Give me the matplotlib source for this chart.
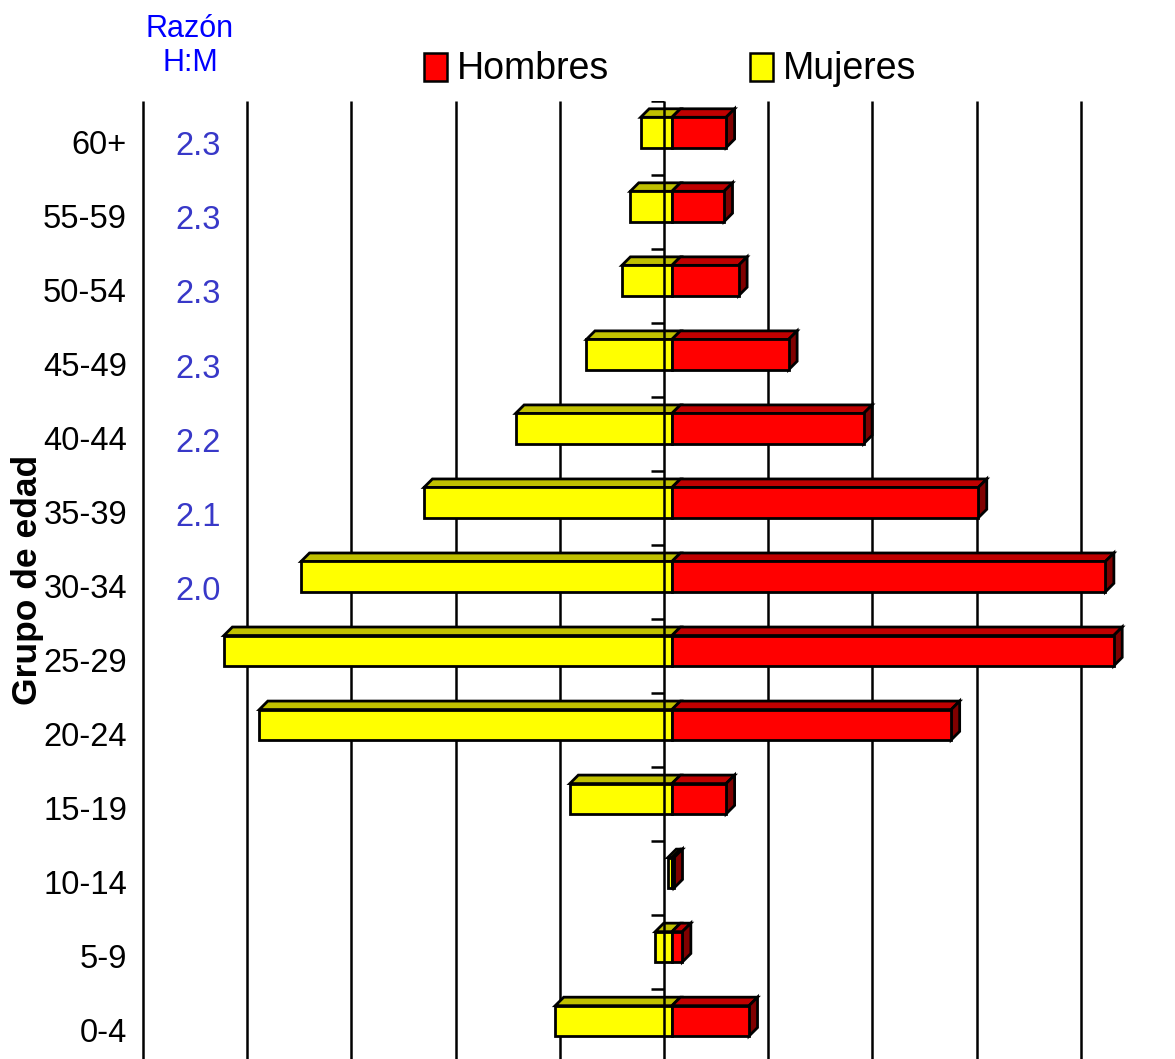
import matplotlib
matplotlib.use('Agg')
import matplotlib.pyplot as plt
from matplotlib.patches import Polygon, Rectangle

plt.rcParams['font.family'] = ['Liberation Sans', 'DejaVu Sans']

# age groups from top to bottom
groups = ['60+', '55-59', '50-54', '45-49', '40-44', '35-39', '30-34',
          '25-29', '20-24', '15-19', '10-14', '5-9', '0-4']
# share (%) of each sex falling in every age group
hombres = [2.6, 2.5, 3.2, 5.6, 9.2, 14.7, 20.8, 21.2, 13.4, 2.6, 0.1, 0.5, 3.7]
mujeres = [1.5, 2.0, 2.4, 4.1, 7.5, 11.9, 17.8, 21.5, 19.8, 4.9, 0.2, 0.8, 5.6]
# male:female ratio, only given for the older groups
razon = [2.3, 2.3, 2.3, 2.3, 2.2, 2.1, 2.0]

RED, RED_TOP, RED_SIDE = '#FF0000', '#C00000', '#800000'
YEL, YEL_TOP = '#FFFF00', '#C0C000'
RATIO_BLUE = '#3838C8'

W, H = 1175, 1059
fig = plt.figure(figsize=(W / 100, H / 100), dpi=100)
ax_w, ax_h = 989, 958
ax = fig.add_axes([142 / W, 0, ax_w / W, ax_h / H])
xmin, xmax = -25.43, 22.03
ytop, ybot = -0.425, 12.515
ax.set_xlim(xmin, xmax)
ax.set_ylim(ybot, ytop)
ax.set_axis_off()

# pixel sizes turned into data units
px_x = (xmax - xmin) / ax_w
px_y = (ybot - ytop) / ax_h
dx, dy = 8.5 * px_x, 8.5 * px_y     # depth of the 3-D boxes
half = 0.205                        # half height of a front face
wall = -8 * px_x                    # the back wall sits a little left of zero

# vertical gridlines every 5 %
for k in range(-5, 5):
    ax.vlines(5 * k + wall, ytop, ybot, color='black', lw=1.8,
              zorder=5 if k == 0 else 1)
# category ticks on the central axis
ax.hlines([k + ytop for k in range(len(groups))], wall - 13 * px_x, wall,
          color='black', lw=1.8, zorder=5)

edge = dict(edgecolor='black', linewidth=2.0, joinstyle='miter', zorder=2)
for i, (m, h) in enumerate(zip(mujeres, hombres)):
    yt, yb = i - half, i + half
    # top faces
    ax.add_patch(Polygon([(-m, yt), (0, yt), (dx, yt - dy), (-m + dx, yt - dy)],
                         facecolor=YEL_TOP, **edge))
    ax.add_patch(Polygon([(0, yt), (h, yt), (h + dx, yt - dy), (dx, yt - dy)],
                         facecolor=RED_TOP, **edge))
    # right side face
    ax.add_patch(Polygon([(h, yt), (h, yb), (h + dx, yb - dy), (h + dx, yt - dy)],
                         facecolor=RED_SIDE, **edge))
    # front faces
    ax.add_patch(Rectangle((-m, yt), m, 2 * half, facecolor=YEL, **edge))
    ax.add_patch(Rectangle((0, yt), h, 2 * half, facecolor=RED, **edge))

# age group labels and ratios
lab_x = -15 / ax_w
for i, g in enumerate(groups):
    ax.text(lab_x, i + 0.29, g, transform=ax.get_yaxis_transform(),
            ha='right', va='baseline', fontsize=23.5, clip_on=False)
for i, r in enumerate(razon):
    ax.text(56 / ax_w, i + 0.31, f'{r:.1f}', transform=ax.get_yaxis_transform(),
            ha='center', va='baseline', fontsize=23.5, color=RATIO_BLUE)

fig.text(190 / W, 1 - 46 / H, 'Razón\nH:M', ha='center', va='center',
         fontsize=22, color='#0000FF', linespacing=1.2)
fig.text(28 / W, 1 - 580 / H, 'Grupo de edad', rotation=90, ha='center',
         va='center', fontsize=25.5, fontweight='bold')

# legend
for x0, col, name in [(424, RED, 'Hombres'), (750, YEL, 'Mujeres')]:
    fig.add_artist(Rectangle((x0 / W, 1 - 81 / H), 23 / W, 28 / H,
                             transform=fig.transFigure, facecolor=col,
                             edgecolor='black', linewidth=1.8))
    fig.text((x0 + 33) / W, 1 - 79 / H, name, ha='left', va='baseline',
             fontsize=27)

fig.savefig('out.png', dpi=100)
